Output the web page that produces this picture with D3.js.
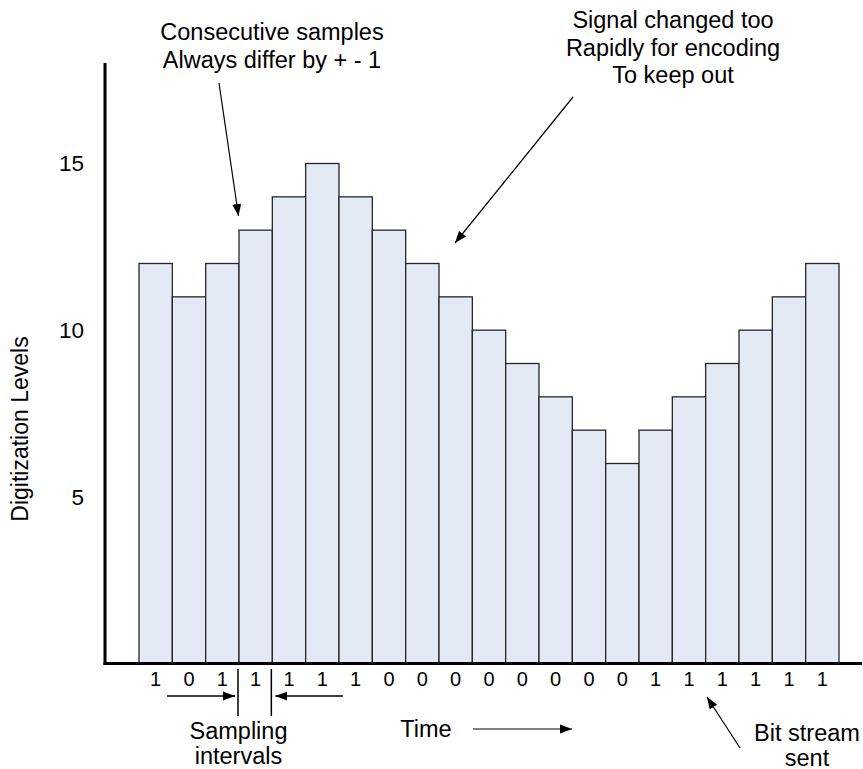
<!DOCTYPE html>
<html>
<head>
<meta charset="utf-8">
<script src="https://cdn.jsdelivr.net/npm/d3@7"></script>
<style>
  html, body { margin: 0; padding: 0; background: #fff; }
  svg { display: block; }
  text { font-family: "Liberation Sans", Arial, sans-serif; fill: #000; }
</style>
</head>
<body>
<svg id="chart" width="863" height="769"></svg>
<script>
// ---- data ----
const levels = [12, 11, 12, 13, 14, 15, 14, 13, 12, 11, 10, 9, 8, 7, 6, 7, 8, 9, 10, 11, 12];
const bits = [1, 0, 1, 1, 1, 1, 1, 0, 0, 0, 0, 0, 0, 0, 0, 1, 1, 1, 1, 1, 1];
const yTicks = [5, 10, 15];
const yTitle = "Digitization Levels";
const note1 = ["Consecutive samples", "Always differ by + - 1"];
const note2 = ["Signal changed too", "Rapidly for encoding", "To keep out"];
const samplingLabel = ["Sampling", "intervals"];
const timeLabel = "Time";
const bitStreamLabel = ["Bit stream", "sent"];

// ---- layout ----
const FONT = "'Liberation Sans', Arial, sans-serif";
const svg = d3.select("#chart");
const axisX = 105, axisY = 663.5;
const x = d3.scaleBand().domain(d3.range(levels.length)).range([139, 839]).padding(0);
const y = d3.scaleLinear().domain([0, 15]).range([axisY, 163.5]);

const defs = svg.append("defs");
defs.append("marker")
  .attr("id", "arrow")
  .attr("markerUnits", "userSpaceOnUse")
  .attr("viewBox", "0 -5 12 10")
  .attr("refX", 12).attr("refY", 0)
  .attr("markerWidth", 12).attr("markerHeight", 10)
  .attr("orient", "auto")
  .append("path").attr("d", "M0,-4.5L12,0L0,4.5Z").attr("fill", "#000");

// bars
svg.append("g").selectAll("rect").data(levels).join("rect")
  .attr("x", (d, i) => x(i))
  .attr("y", d => y(d))
  .attr("width", x.bandwidth())
  .attr("height", d => y(0) - y(d))
  .attr("fill", "#E4EAF5")
  .attr("stroke", "#262626")
  .attr("stroke-width", 1.3);

// y tick labels
const yAxis = svg.append("g")
  .attr("transform", `translate(${axisX},0)`)
  .call(d3.axisLeft(y).tickValues(yTicks).tickSize(0).tickPadding(21));
yAxis.select(".domain").remove();
yAxis.selectAll("text").attr("font-size", 22.5).attr("font-family", FONT).attr("fill", "#000");

// axis lines
svg.append("line").attr("x1", axisX).attr("x2", axisX).attr("y1", 63).attr("y2", axisY + 1.5)
  .attr("stroke", "#000").attr("stroke-width", 3);
svg.append("line").attr("x1", axisX - 1.5).attr("x2", 862).attr("y1", axisY).attr("y2", axisY)
  .attr("stroke", "#000").attr("stroke-width", 3);

// y title
svg.append("text")
  .attr("transform", "translate(28,429) rotate(-90)")
  .attr("text-anchor", "middle")
  .attr("font-size", 23)
  .text(yTitle);

// bit stream
svg.append("g").selectAll("text").data(bits).join("text")
  .attr("x", (d, i) => x(i) + x.bandwidth() / 2)
  .attr("y", 686)
  .attr("text-anchor", "middle")
  .attr("font-size", 20)
  .text(d => d);

// sampling interval markers
[3, 4].forEach(i => {
  svg.append("line").attr("x1", x(i) - 1).attr("x2", x(i) - 1).attr("y1", 669).attr("y2", 716)
    .attr("stroke", "#000").attr("stroke-width", 1.5);
});
svg.append("line").attr("x1", 167).attr("y1", 696).attr("x2", x(3) - 4).attr("y2", 696)
  .attr("stroke", "#000").attr("stroke-width", 1.3).attr("marker-end", "url(#arrow)");
svg.append("line").attr("x1", 343).attr("y1", 696).attr("x2", x(4) + 3).attr("y2", 696)
  .attr("stroke", "#000").attr("stroke-width", 1.3).attr("marker-end", "url(#arrow)");

svg.append("text").attr("text-anchor", "middle").attr("font-size", 23.5)
  .selectAll("tspan").data(samplingLabel).join("tspan")
  .attr("x", 238.5).attr("y", (d, i) => 739 + i * 25).text(d => d);

// time
svg.append("text").attr("x", 426).attr("y", 737).attr("text-anchor", "middle")
  .attr("font-size", 23.5).text(timeLabel);
svg.append("line").attr("x1", 473).attr("y1", 729).attr("x2", 572).attr("y2", 729)
  .attr("stroke", "#000").attr("stroke-width", 1.2).attr("marker-end", "url(#arrow)");

// bit stream sent
svg.append("text").attr("text-anchor", "middle").attr("font-size", 23.5)
  .selectAll("tspan").data(bitStreamLabel).join("tspan")
  .attr("x", 807).attr("y", (d, i) => 741 + i * 24.5).text(d => d);
svg.append("line").attr("x1", 740).attr("y1", 748).attr("x2", 707).attr("y2", 697)
  .attr("stroke", "#000").attr("stroke-width", 1.2).attr("marker-end", "url(#arrow)");

// note 1
svg.append("text").attr("text-anchor", "middle").attr("font-size", 23.5)
  .selectAll("tspan").data(note1).join("tspan")
  .attr("x", 272).attr("y", (d, i) => 40 + i * 28).text(d => d);
svg.append("line").attr("x1", 219).attr("y1", 83).attr("x2", 238.5).attr("y2", 216)
  .attr("stroke", "#000").attr("stroke-width", 1.2).attr("marker-end", "url(#arrow)");

// note 2
svg.append("text").attr("text-anchor", "middle").attr("font-size", 23.5)
  .selectAll("tspan").data(note2).join("tspan")
  .attr("x", 673).attr("y", (d, i) => 28 + i * 27.5).text(d => d);
svg.append("line").attr("x1", 573).attr("y1", 97).attr("x2", 455).attr("y2", 243)
  .attr("stroke", "#000").attr("stroke-width", 1.2).attr("marker-end", "url(#arrow)");
</script>
</body>
</html>
